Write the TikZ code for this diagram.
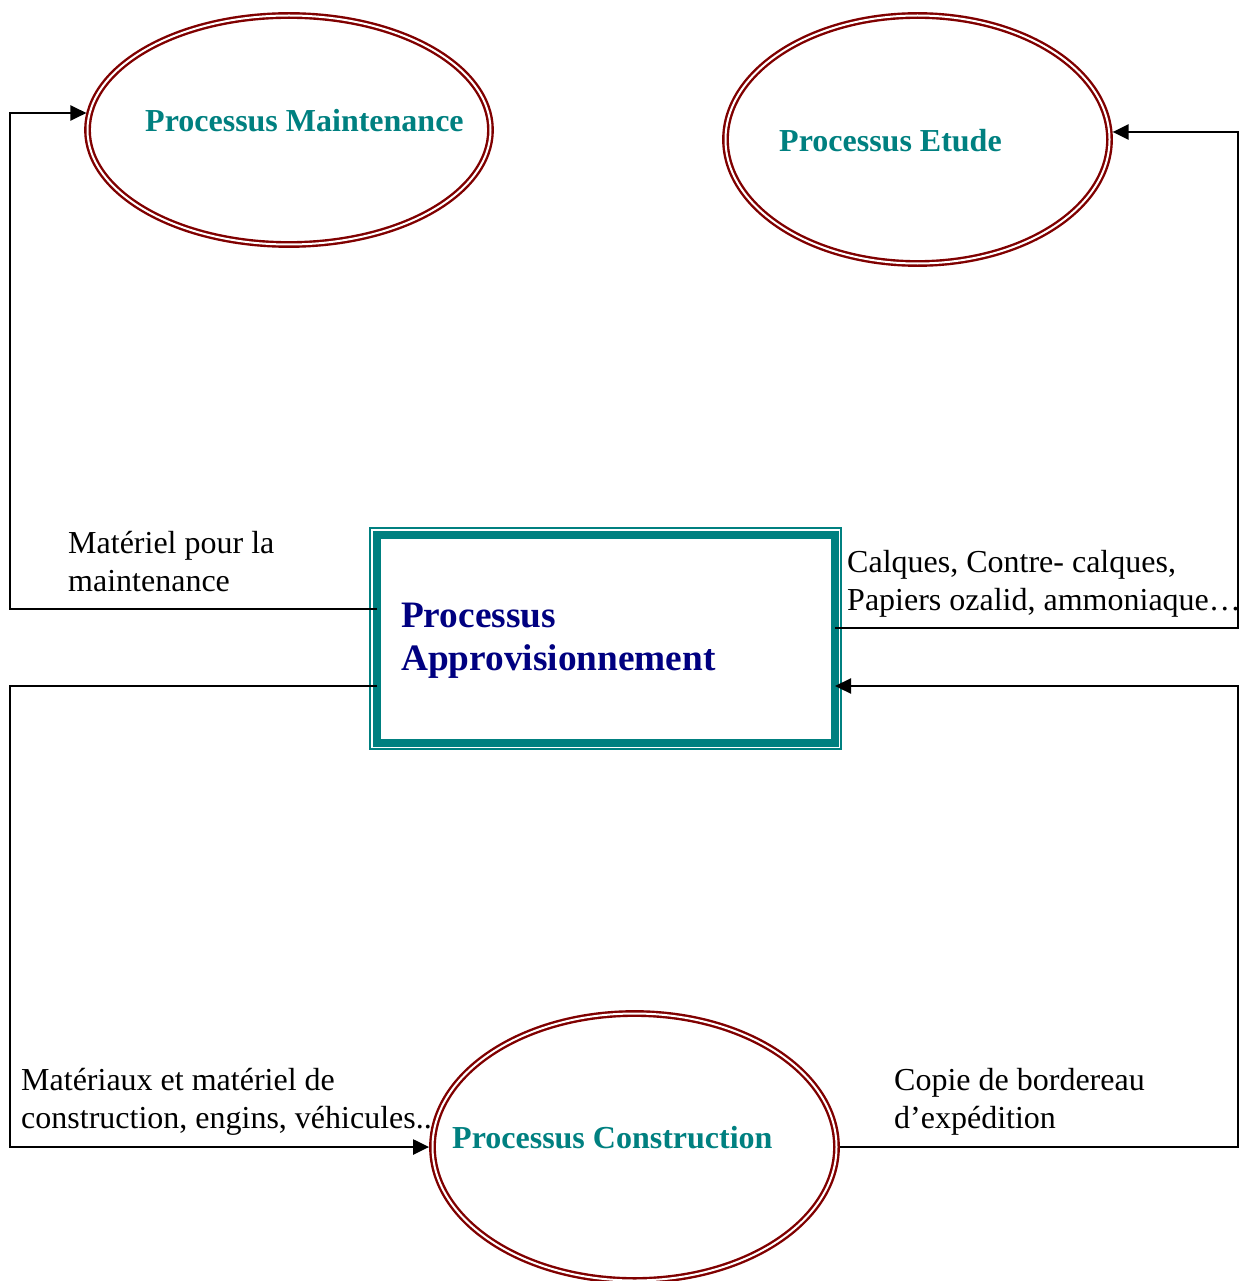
\documentclass[tikz,border=0pt]{standalone}
\usepackage{fontspec}
\setmainfont{Liberation Serif}
\usetikzlibrary{arrows.meta,calc,shapes.geometric}
\definecolor{procred}{HTML}{800000}
\definecolor{proctext}{HTML}{008080}
\definecolor{boxteal}{HTML}{008080}
\definecolor{boxtext}{HTML}{000080}
\begin{document}
\begin{tikzpicture}[x=1pt,y=-1pt,
  process/.style={ellipse, draw=procred, line width=2.4pt, double=white,
    double distance=2pt, inner sep=0pt, outer sep=3.4pt},
  proclabel/.style={anchor=base west, inner sep=0pt, text=proctext,
    font=\fontsize{32}{38}\selectfont\bfseries},
  flowlabel/.style={anchor=base west, inner sep=0pt, align=left,
    font=\fontsize{32}{38}\selectfont},
  flow/.style={draw=black, line width=2.3pt,
    -{Triangle[length=16pt,width=15pt]}}]
\useasboundingbox (0,0) rectangle (1240,1281);

% processes
\node[process, minimum width=403pt, minimum height=229pt] (maint) at (289,130) {};
\node[process, minimum width=384pt, minimum height=248pt] (etude) at (917.5,139.5) {};
\node[process, minimum width=404pt, minimum height=267pt] (constr) at (634.5,1147) {};

\node[proclabel] (tmaint) at (145,132) {Processus Maintenance};
\node[proclabel] (tetude) at (779,152) {Processus Etude};
\node[proclabel] (tconstr) at (452,1148) {Processus Construction};

% central supply process: thick teal frame with a thin outer rule
\node[draw=boxteal, line width=8pt, inner sep=0pt, outer sep=0pt,
  minimum width=458.5pt, minimum height=208.5pt] (box) at (605.75,638.75) {};
\draw[boxteal, line width=1.4pt]
  ([xshift=-6.5pt,yshift=6.5pt]box.north west) rectangle
  ([xshift=6pt,yshift=-6pt]box.south east);
\node[anchor=base west, inner sep=0pt, align=left, text=boxtext,
  font=\fontsize{37.3}{43}\selectfont\bfseries] (tbox) at (401,670)
  {Processus\\Approvisionnement};

% levels of the connectors
\coordinate (railL) at (10,0);
\coordinate (railR) at (1238,0);
\coordinate (lvlM) at (0,113);
\coordinate (lvlE) at (0,132);
\coordinate (lvlA) at (0,609);
\coordinate (lvlC) at (0,628);
\coordinate (lvlB) at (0,686);

\draw[flow] (box.west |- lvlA) -| (railL |- lvlM) -- (maint.175 |- lvlM);
\draw[flow] (box.east |- lvlC) -| (railR |- lvlE) -- (etude.2 |- lvlE);
\draw[flow] (box.west |- lvlB) -| (railL |- constr.west) -- (constr.west);
\draw[flow] (constr.east) -| (railR |- lvlB) -- (box.east |- lvlB);

% flow labels (anchored on the baseline of their last line)
\node[flowlabel] (lmaint) at (68,591) {Matériel pour la\\maintenance};
\node[flowlabel] (letude) at (847,610) {Calques, Contre- calques,\\Papiers ozalid, ammoniaque…};
\node[flowlabel] (lconstr) at (21,1128) {Matériaux et matériel de\\construction, engins, véhicules..};
\node[flowlabel] (lcopie) at (894,1128) {Copie de bordereau\\d’expédition};
\end{tikzpicture}
\end{document}
